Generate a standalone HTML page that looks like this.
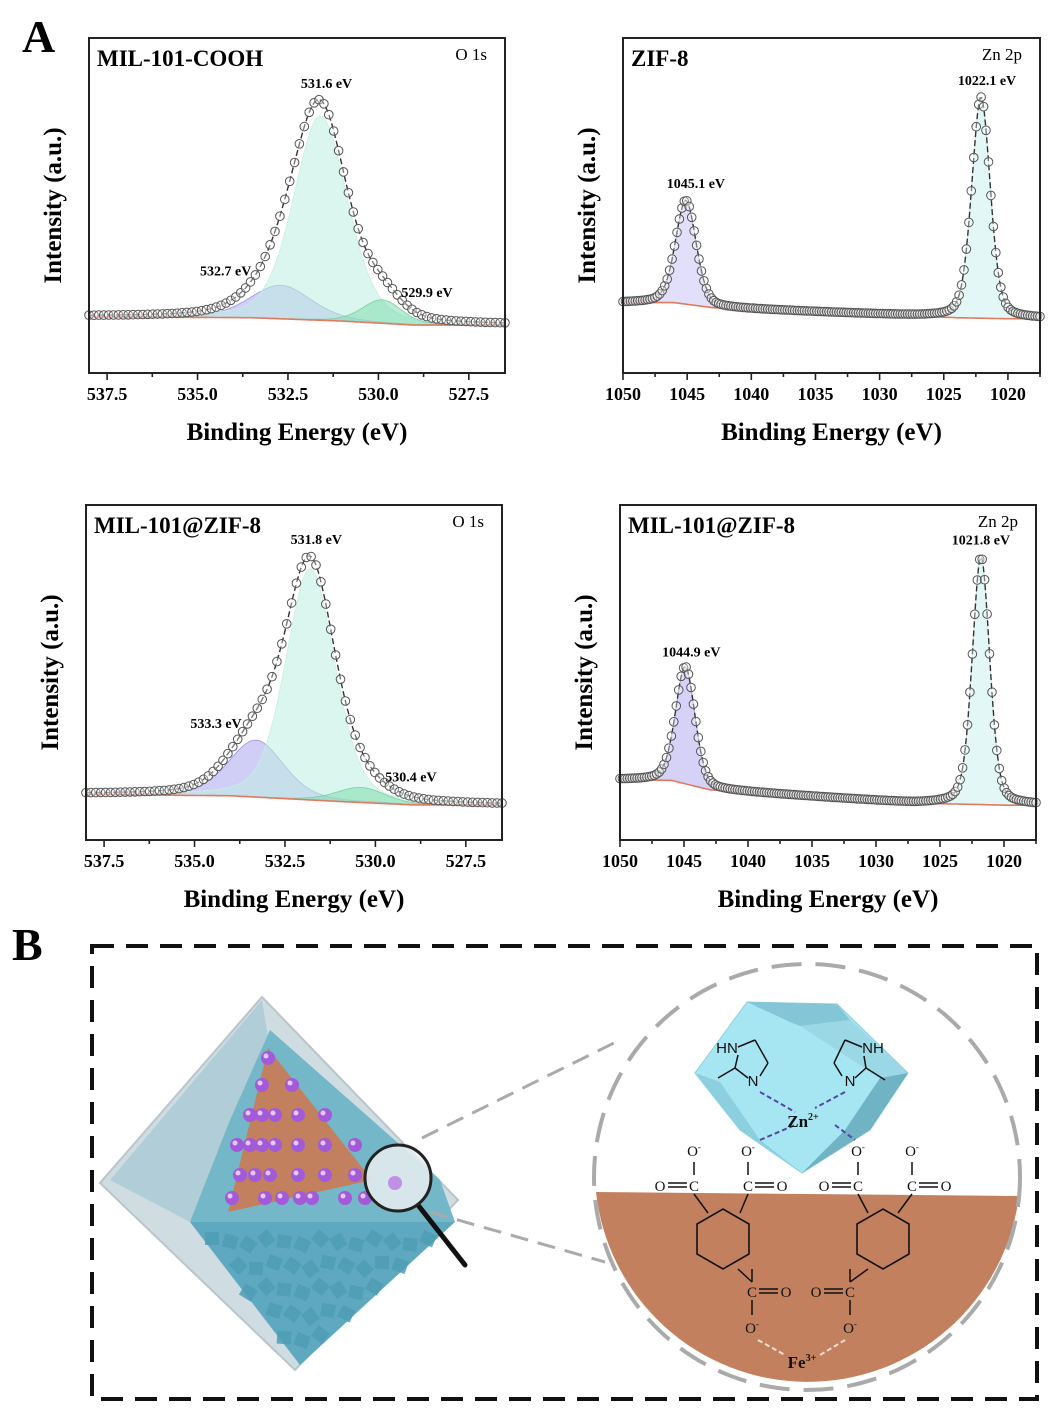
<!DOCTYPE html>
<html><head><meta charset="utf-8">
<style>
html,body{margin:0;padding:0;background:#fff;}
svg{display:block;font-family:"Liberation Serif","DejaVu Serif",serif;}
.tl{font-size:18px;font-weight:bold;}
.at{font-size:25px;font-weight:bold;}
</style></head>
<body>
<svg id="fig" width="1052" height="1416" viewBox="0 0 1052 1416" xmlns="http://www.w3.org/2000/svg">
<text x="22" y="52" font-size="46" font-weight="bold">A</text>
<text x="12" y="960" font-size="46" font-weight="bold">B</text>
<g id="charts"></g>
<g id="schematic"></g>
</svg>
<script>
// ---- chart data (peak components: center eV, amplitude, fwhm eV) ----
const p1Centers=[532.7,531.6,529.9];
const p1Amps=[10,61,7];
const p1Fwhm=[2.0,1.75,1.3];
const p1Labels=["532.7 eV","531.6 eV","529.9 eV"];
const p1BaseE=[538,533.5,531,529,526.5];
const p1BaseV=[16.8,16.5,15.5,14.3,14.3];
const o1sTicks=[537.5,535.0,532.5,530.0,527.5];

const p2Centers=[1045.1,1022.1];
const p2Amps=[31,66];
const p2Fwhm=[1.9,1.7];
const p2Labels=["1045.1 eV","1022.1 eV"];
const p2BaseE=[1050,1046,1043,1030,1024,1020,1017.5];
const p2BaseV=[21,21,19.5,17.5,16.5,16.2,16.2];
const zn2pTicks=[1050,1045,1040,1035,1030,1025,1020];

const p3Centers=[533.3,531.8,530.4];
const p3Amps=[17,69,4.5];
const p3Fwhm=[1.8,1.6,1.6];
const p3Labels=["533.3 eV","531.8 eV","530.4 eV"];
const p3BaseE=[538,534,531,529,526.5];
const p3BaseV=[13.6,13.2,11.5,10.5,10.4];

const p4Centers=[1044.9,1021.8];
const p4Amps=[35,74];
const p4Fwhm=[1.8,1.6];
const p4Labels=["1044.9 eV","1021.8 eV"];
const p4BaseE=[1050,1046,1043,1035,1027,1022,1020,1017.5];
const p4BaseV=[18,17.8,15,13,11,10.6,10.4,10.4];

const NS="http://www.w3.org/2000/svg";
function mk(tag,attrs,parent){const e=document.createElementNS(NS,tag);for(const k in attrs)e.setAttribute(k,attrs[k]);if(parent)parent.appendChild(e);return e;}
function interp(xs,ys,x){
  if(x>=xs[0])return ys[0];
  for(let i=0;i<xs.length-1;i++){if(x<=xs[i]&&x>=xs[i+1]){const t=(xs[i]-x)/(xs[i]-xs[i+1]);return ys[i]+t*(ys[i+1]-ys[i]);}}
  return ys[ys.length-1];
}
function shape(e,c,w){const d=(e-c)/(w/2);return 0.7*Math.exp(-Math.LN2*d*d)+0.3/(1+d*d);}

function panel(cfg){
  const g=mk('g',{},document.getElementById('charts'));
  
  
  const {x0,x1,y0,y1,eL,eR}=cfg;
  const sx=e=>x0+(eL-e)/(eL-eR)*(x1-x0);
  const sy=v=>y1-v/100*(y1-y0);
  const N=300;
  const es=[];for(let i=0;i<=N;i++)es.push(eL-(eL-eR)*i/N);
  const base=e=>interp(cfg.baseE,cfg.baseV,e);
  cfg.centers.forEach((c,k)=>{
    let d='';
    es.forEach((e,i)=>{d+=(i?'L':'M')+sx(e).toFixed(1)+','+sy(base(e)+cfg.amps[k]*shape(e,c,cfg.fwhm[k])).toFixed(1);});
    for(let i=N;i>=0;i--)d+='L'+sx(es[i]).toFixed(1)+','+sy(base(es[i])).toFixed(1);
    const p=mk('path',{d:d+'Z',fill:cfg.colors[k],'fill-opacity':0.55,stroke:cfg.strokes[k],'stroke-width':0.8},g);
    
    
  });
  let bd='';es.forEach((e,i)=>{bd+=(i?'L':'M')+sx(e).toFixed(1)+','+sy(base(e)).toFixed(1);});
  const bl=mk('path',{d:bd,fill:'none',stroke:'#e07a60','stroke-width':1.6},g);
  
  
  const tot=e=>{let s=base(e);cfg.centers.forEach((c,k)=>s+=cfg.amps[k]*shape(e,c,cfg.fwhm[k]));return s;};
  let fd='';es.forEach((e,i)=>{fd+=(i?'L':'M')+sx(e).toFixed(1)+','+sy(tot(e)).toFixed(1);});
  const fl=mk('path',{d:fd,fill:'none',stroke:'#333','stroke-width':1.4,'stroke-dasharray':'6,3'},g);
  
  
  const M=cfg.nPts;
  for(let i=0;i<=M;i++){const e=eL-(eL-eR)*i/M;
    const c=mk('circle',{cx:sx(e).toFixed(1),cy:sy(tot(e)).toFixed(1),r:4.3,fill:'#fff','fill-opacity':0.35,stroke:'#555','stroke-width':1},g);
    
    
  }
  const fr=mk('rect',{x:x0,y:y0,width:x1-x0,height:y1-y0,fill:'none',stroke:'#222','stroke-width':2},g);
  
  
  const step=cfg.ticks[0]-cfg.ticks[1];
  for(let t=cfg.ticks[0]+step/2;t>=eR;t-=step/2){
    const X=sx(t);if(X<x0-1||X>x1+1)continue;
    const major=cfg.ticks.some(v=>Math.abs(v-t)<1e-6);
    mk('line',{x1:X,x2:X,y1:y1,y2:y1+(major?7:4),stroke:'#222','stroke-width':1.6},g);
  }
  cfg.ticks.forEach(t=>{
    const tx=mk('text',{x:sx(t),y:y1+27,'text-anchor':'middle',class:'tl'},g);tx.textContent=cfg.tickFmt(t);
    
    
  });
  const xt=mk('text',{x:(x0+x1)/2,y:y1+67,'text-anchor':'middle',class:'at'},g);xt.textContent='Binding Energy (eV)';
  
  
  const yt=mk('text',{x:0,y:0,'text-anchor':'middle',class:'at',transform:`translate(${x0-28},${(y0+y1)/2}) rotate(-90)`},g);yt.textContent='Intensity (a.u.)';
  
  
  const st=mk('text',{x:x0+8,y:y0+28,'font-size':23,'font-weight':'bold'},g);st.textContent=cfg.title;
  
  
  const cl=mk('text',{x:x1-18,y:y0+22,'font-size':17,'text-anchor':'end'},g);cl.textContent=cfg.core;
  
  
  cfg.labels.forEach((l,k)=>{
    const c=cfg.centers[k];const o=cfg.labelOff[k];
    const v=(cfg.labelOnTotal[k]?tot(c):base(c)+cfg.amps[k]);
    const lt=mk('text',{x:sx(c)+o[0],y:sy(v)+o[1],'font-size':14,'font-weight':'bold','text-anchor':'middle'},g);lt.textContent=l;
    
    
  });
}
const o1Col=['#a9a4ee','#bdeee0','#7fdcae'],o1Str=['#9a96e0','#c8eee4','#7ad0a4'];
panel({name:'chart-mil101-cooh-o1s',x0:89,x1:505,y0:38,y1:373,eL:538,eR:526.5,centers:p1Centers,amps:p1Amps,fwhm:p1Fwhm,labels:p1Labels,
 baseE:p1BaseE,baseV:p1BaseV,ticks:o1sTicks,tickFmt:t=>t.toFixed(1),title:'MIL-101-COOH',core:'O 1s',colors:o1Col,strokes:o1Str,nPts:85,
 labelOff:[[-55,-10],[6,-12],[45,-3]],labelOnTotal:[false,true,false]});
panel({name:'chart-zif8-zn2p',x0:623,x1:1040,y0:38,y1:373,eL:1050,eR:1017.5,centers:p2Centers,amps:p2Amps,fwhm:p2Fwhm,labels:p2Labels,
 baseE:p2BaseE,baseV:p2BaseV,ticks:zn2pTicks,tickFmt:t=>String(t),title:'ZIF-8',core:'Zn 2p',colors:['#c8c4f4','#ccf2ee'],strokes:['#a8a4e8','#c0e8e4'],nPts:170,
 labelOff:[[10,-12],[6,-12]],labelOnTotal:[true,true]});
panel({name:'chart-mil101-zif8-o1s',x0:86,x1:502,y0:505,y1:840,eL:538,eR:526.5,centers:p3Centers,amps:p3Amps,fwhm:p3Fwhm,labels:p3Labels,
 baseE:p3BaseE,baseV:p3BaseV,ticks:o1sTicks,tickFmt:t=>t.toFixed(1),title:'MIL-101@ZIF-8',core:'O 1s',colors:o1Col,strokes:o1Str,nPts:85,
 labelOff:[[-40,-12],[6,-12],[50,-6]],labelOnTotal:[false,true,false]});
panel({name:'chart-mil101-zif8-zn2p',x0:620,x1:1036,y0:505,y1:840,eL:1050,eR:1017.5,centers:p4Centers,amps:p4Amps,fwhm:p4Fwhm,labels:p4Labels,
 baseE:p4BaseE,baseV:p4BaseV,ticks:zn2pTicks,tickFmt:t=>String(t),title:'MIL-101@ZIF-8',core:'Zn 2p',colors:['#b4acf0','#ccf2ee'],strokes:['#9a90e0','#c0e8e4'],nPts:170,
 labelOff:[[6,-10],[0,-12]],labelOnTotal:[true,true]});

// ---- schematic B ----
(function(){
const s=document.getElementById('schematic');
let h=`
<rect x="92" y="946" width="945" height="453" fill="none" stroke="#111" stroke-width="4" stroke-dasharray="22,12"/>
<polygon points="262,997 100,1183 295,1370 458,1200" fill="#cfdde2" stroke="#b9c5ca" stroke-width="2"/>
<polygon points="262,1000 110,1180 190,1222 270,1050" fill="#a9c9d4" opacity="0.8"/>
<polygon points="190,1222 455,1222 300,1365" fill="#5fa9c0"/>
<polygon points="270,1030 440,1180 455,1222 190,1222 230,1120" fill="#74b7c8"/>
<polygon points="268,1048 372,1180 228,1212" fill="#c3805e"/>
`;
let blobs='';
for(let i=0;i<14;i++)for(let j=0;j<5;j++){const x=205+i*18+(j%2)*8, y=1232+j*24+ (i%3)*3; if(x>440-(y-1222)*1.1||x<190+(y-1222)*0.75)continue; blobs+=`<rect x="${x}" y="${y}" width="14" height="13" fill="#4f9cb5" opacity="0.85" transform="rotate(${(i*17+j*29)%60} ${x+7} ${y+7})"/>`;}
h+=blobs;
let dots='';
const rows=[[1058,[268]],[1085,[262,292]],[1115,[250,262,275,298,325]],[1145,[237,250,262,275,298,325,355]],[1175,[240,255,270,298,325,355]],[1198,[232,265,282,300,312,345,365]]];
rows.forEach(r=>r[1].forEach(x=>{dots+=`<circle cx="${x}" cy="${r[0]}" r="7" fill="#a35ad8"/><circle cx="${x-2}" cy="${r[0]-2}" r="2.5" fill="#e4c8f8"/>`;}));
h+=dots;
h+=`
<line x1="422" y1="1138" x2="620" y2="1040" stroke="#aaa" stroke-width="3" stroke-dasharray="18,10"/>
<line x1="430" y1="1212" x2="605" y2="1262" stroke="#aaa" stroke-width="3" stroke-dasharray="18,10"/>
<line x1="418" y1="1205" x2="465" y2="1265" stroke="#111" stroke-width="5" stroke-linecap="round"/>
<circle cx="398" cy="1178" r="33" fill="#e8eef0" fill-opacity="0.85" stroke="#222" stroke-width="3"/>
<circle cx="395" cy="1183" r="7" fill="#c090e8"/>
<path d="M596,1192 L1019,1196 A213,213 0 0 1 596,1192 Z" fill="#c3805e"/>
<circle cx="807" cy="1177" r="213" fill="none" stroke="#aaa" stroke-width="4" stroke-dasharray="30,14"/>
<polygon points="747,1002 837,1004 908,1073 870,1130 802,1173 740,1130 695,1073" fill="#a6e6f2" stroke="#8ccfdf"/>
<polygon points="747,1002 837,1004 850,1020 800,1026 790,1022" fill="#84c6d6"/>
<polygon points="850,1020 908,1073 880,1078 800,1026" fill="#9ad8e6"/>
<polygon points="880,1078 908,1073 870,1130 802,1173 845,1130" fill="#6fb3c4"/>
<polygon points="695,1073 720,1082 760,1140 802,1173 740,1130" fill="#8ccfdf"/>
`;
s.innerHTML=h;
const t=(x,y,str,sz,anchor,extra)=>{const e=mk('text',{x:x,y:y,'font-size':sz,'text-anchor':anchor||'middle',fill:'#111'},s);if(extra)for(const k in extra)e.setAttribute(k,extra[k]);e.innerHTML=str;return e;};
const L=(a,b,c,d,col,w,da)=>{const e=mk('line',{x1:a,y1:b,x2:c,y2:d,stroke:col||'#111','stroke-width':w||1.5},s);if(da)e.setAttribute('stroke-dasharray',da);};
t(727,1053,'HN',15,'middle',{'font-family':'Liberation Sans'});
t(753,1086,'N',15,'middle',{'font-family':'Liberation Sans'});
t(873,1053,'NH',15,'middle',{'font-family':'Liberation Sans'});
t(850,1086,'N',15,'middle',{'font-family':'Liberation Sans'});
L(738,1047,755,1040);L(755,1040,768,1063);L(768,1063,760,1076);L(738,1055,735,1068);L(735,1068,748,1078);L(735,1068,718,1078);
L(862,1047,845,1040);L(845,1040,834,1063);L(834,1063,842,1076);L(864,1056,866,1068);L(866,1068,855,1078);L(866,1068,885,1080);
L(760,1092,795,1112,'#5544aa',2,'5,3');L(845,1092,815,1108,'#5544aa',2,'5,3');
L(760,1140,795,1125,'#5544aa',2,'5,3');L(835,1125,855,1140,'#5544aa',2,'5,3');
t(803,1127,'Zn<tspan font-size="10" dy="-7">2+</tspan>',17,'middle',{'font-weight':'bold'});
const top=[[694,'O=C',-1],[748,'C=O',1],[858,'O=C',-1],[912,'C=O',1]];
top.forEach(([x,lab,dir])=>{t(x,1156,'O<tspan font-size="9" dy="-6">-</tspan>',15);L(x,1162,x,1175);t(x,1191,'C',15);t(x+dir*34,1191,'O',15);L(x+dir*7,1183,x+dir*26,1183);L(x+dir*7,1187,x+dir*26,1187);});
function ring(cx,cy){const r=30;let pts=[];for(let i=0;i<6;i++){const a=Math.PI/6+i*Math.PI/3;pts.push([cx+r*Math.cos(a),cy+r*Math.sin(a)]);}
 const p=mk('polygon',{points:pts.map(q=>q.join(',')).join(' '),fill:'none',stroke:'#111','stroke-width':1.6},s);}
ring(723,1239);ring(883,1239);
L(694,1194,708,1213);L(748,1194,740,1213);L(858,1194,868,1213);L(912,1194,898,1213);
[[752,1],[850,-1]].forEach(([x,dir])=>{L(x,1269,x,1282);t(x,1297,'C',15);t(x+dir*34,1297,'O',15);L(x+dir*7,1289,x+dir*26,1289);L(x+dir*7,1293,x+dir*26,1293);L(x,1300,x,1315);t(x,1333,'O<tspan font-size="9" dy="-6">-</tspan>',15);});
L(738,1269,752,1282);L(868,1269,850,1282);
L(758,1340,785,1355,'#f4e0d0',2,'5,3');L(845,1340,820,1355,'#f4e0d0',2,'5,3');
t(802,1368,'Fe<tspan font-size="10" dy="-7">3+</tspan>',17,'middle',{'font-weight':'bold'});
})();
</script>
</body></html>
